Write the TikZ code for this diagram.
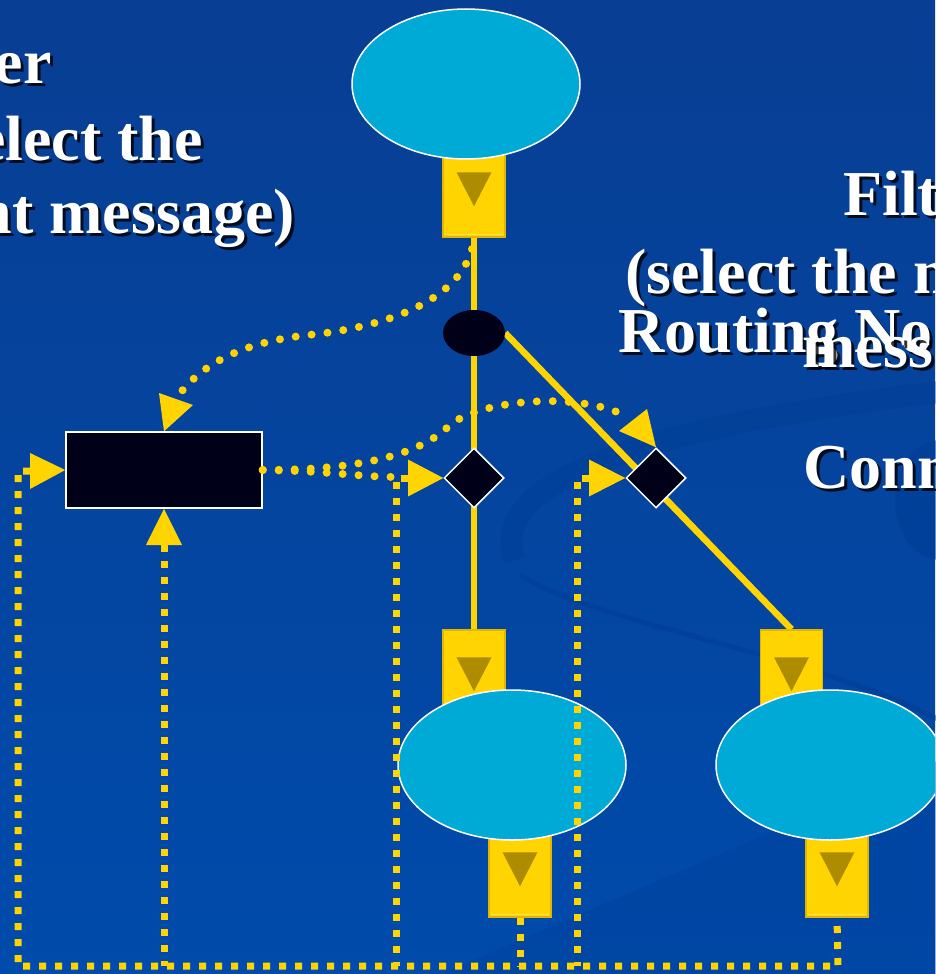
\documentclass[tikz,border=0pt]{standalone}
\usepackage{fontspec}
\setmainfont{Liberation Serif}
\usetikzlibrary{shapes.geometric,calc}
\definecolor{bgtop}{HTML}{083E93}
\definecolor{bgbot}{HTML}{004BAB}
\definecolor{cyanf}{HTML}{00AAD6}
\definecolor{yel}{HTML}{FFD400}
\definecolor{yeldark}{HTML}{E2B600}
\definecolor{yellight}{HTML}{FFE259}
\definecolor{olivetri}{HTML}{AD8C00}
\definecolor{ink}{HTML}{000018}
\definecolor{swoosh}{HTML}{003C94}
\pgfdeclarelayer{backg}
\pgfdeclarelayer{lines}
\pgfsetlayers{backg,lines,main}
\begin{document}
\begin{tikzpicture}[x=1pt,y=-1pt,
  cyanell/.style={ellipse,fill=cyanf,draw=white,line width=1.5pt,minimum width=228pt,minimum height=150pt,inner sep=0pt},
  ybox/.style={rectangle,fill=yel,draw=yeldark,line width=1.5pt,minimum width=62pt,minimum height=92pt,inner sep=0pt},
  solidline/.style={draw=yel,line width=6.5pt},
  rdots/.style={draw=yel,line width=8pt,line cap=round,dash pattern=on 0pt off 16pt},
  sqdots/.style={draw=yel,line width=7pt,dash pattern=on 7pt off 9pt},
  tri/.style={fill=yel},
  inkshape/.style={fill=ink,draw=white,line width=1.5pt,inner sep=0pt},
  lbl/.style={text=white,font=\bfseries\fontsize{64}{64}\selectfont,inner sep=0pt},
  shd/.style={text=black,opacity=0.8,font=\bfseries\fontsize{64}{64}\selectfont,inner sep=0pt}
]
\useasboundingbox (0,0) rectangle (935,974);
\clip (0,0) rectangle (935,974);
% background
\begin{pgfonlayer}{backg}
\fill[top color=bgtop,bottom color=bgbot] (0,0) rectangle (935,974);
\draw[swoosh,line width=22pt,opacity=0.35] (515,560) .. controls (480,470) and (700,420) .. (940,392);
\draw[swoosh,line width=5pt,opacity=0.5] (520,575) .. controls (600,625) and (800,650) .. (940,720);
\fill[swoosh,opacity=0.5] (940,500) ellipse (45 and 60);
\fill[swoosh,opacity=0.3] (440,974) -- (940,760) -- (940,974) -- cycle;
\end{pgfonlayer}

% boxes
\node[ybox] (bx0) at (474,191) {};
\node[ybox] (bx1) at (474,676) {};
\node[ybox] (bx2) at (520,871) {};
\node[ybox] (bx3) at (791.5,676) {};
\node[ybox] (bx4) at (837,871) {};
\foreach \b in {bx0,bx1,bx2,bx3,bx4}{
  \draw[yellight,line width=1.2pt] ($(\b.south west)+(3,-3)$) -- ($(\b.south east)+(-3,-3)$);
  \fill[olivetri] ($(\b.north)+(-17.5,28)$) -- ($(\b.north)+(17.5,28)$) -- ($(\b.north)+(0,62)$) -- cycle;
}

% ellipses
\node[cyanell] (e0) at (466,84) {};
\node[cyanell] (e1) at (512,765) {};
\node[cyanell] (e2) at (830,765) {};

% hub, filter, diamonds
\node[ellipse,fill=ink,minimum width=62pt,minimum height=46pt,inner sep=0pt] (hub) at (474,333) {};
\node[rectangle,inkshape,minimum width=196pt,minimum height=76pt] (flt) at (164,470) {};
\node[diamond,inkshape,minimum width=60pt,minimum height=60pt] (d1) at (474,478) {};
\node[diamond,inkshape,minimum width=60pt,minimum height=60pt] (d2) at (656,478) {};

% solid lines (below shapes)
\begin{pgfonlayer}{lines}
\draw[solidline] (bx0.south) -- (bx1.north);
\draw[solidline] (hub.east) -- (bx3.north);
\end{pgfonlayer}

% round dotted connectors
\coordinate (c1s) at (472,249);
\coordinate (c1e) at (178,396);
\draw[rdots] (c1s) .. controls (458,300) and (390,325) .. (318,334) .. controls (250,340) and (205,360) .. (c1e);
\coordinate (cAe) at (398,477);
\draw[rdots] (flt.east) .. controls (330,471) and (360,477) .. (cAe);
\coordinate (cBe) at (630,418);
\draw[rdots] (flt.east) .. controls (360,470) and (420,455) .. (450,425) .. controls (480,400) and (580,390) .. (cBe);

% square dotted connectors
\coordinate (tL) at (30,471);
\coordinate (tU) at (164,545);
\coordinate (tA1) at (408,478);
\coordinate (tA2) at (589,478);
\coordinate (corner) at (18,966);
\draw[sqdots] (tL) -| (corner) -- (838,966) -- (bx4.south);
\draw[sqdots] (tU) -- (164,966);
\draw[sqdots] (tA1) -| (396,966);
\draw[sqdots] (tA2) -| (577,966);
\draw[sqdots] (bx2.south) -- (520,966);

% arrowhead triangles
\fill[tri] (159,393) -- (193,405) -- (flt.north) -- cycle;
\fill[tri] (30,453) -- (30,489) -- (flt.west) -- cycle;
\fill[tri] (146,545) -- (182,545) -- (flt.south) -- cycle;
\fill[tri] (408,459.5) -- (408,496.5) -- (d1.west) -- cycle;
\fill[tri] (589,459.5) -- (589,496.5) -- (d2.west) -- cycle;
\fill[tri] (619,431) -- (647,409) -- (d2.north) -- cycle;

% texts (shadow then white)
\node[shd,anchor=base east] (s1) at (55,86) {er};
\node[lbl,anchor=base east] (t1) at (52,83) {er};
\node[shd,anchor=base east] (s2) at (206,163) {elect the};
\node[lbl,anchor=base east] (t2) at (203,160) {elect the};
\node[shd,anchor=base east] (s3) at (298,236) {nt message)};
\node[lbl,anchor=base east] (t3) at (295,233) {nt message)};
\node[shd,anchor=base west] (s4) at (846,218) {Filt};
\node[lbl,anchor=base west] (t4) at (843,215) {Filt};
\node[shd,anchor=base west] (s5) at (628,296) {(select the n};
\node[lbl,anchor=base west] (t5) at (625,293) {(select the n};
\node[shd,anchor=base west] (s6) at (621,355) {Routing No};
\node[lbl,anchor=base west] (t6) at (618,352) {Routing No};
\node[shd,anchor=base west] (s7) at (805,370) {mess};
\node[lbl,anchor=base west] (t7) at (802,367) {mess};
\node[shd,anchor=base west] (s8) at (806,491) {Conn};
\node[lbl,anchor=base west] (t8) at (803,488) {Conn};
\end{tikzpicture}
\end{document}
